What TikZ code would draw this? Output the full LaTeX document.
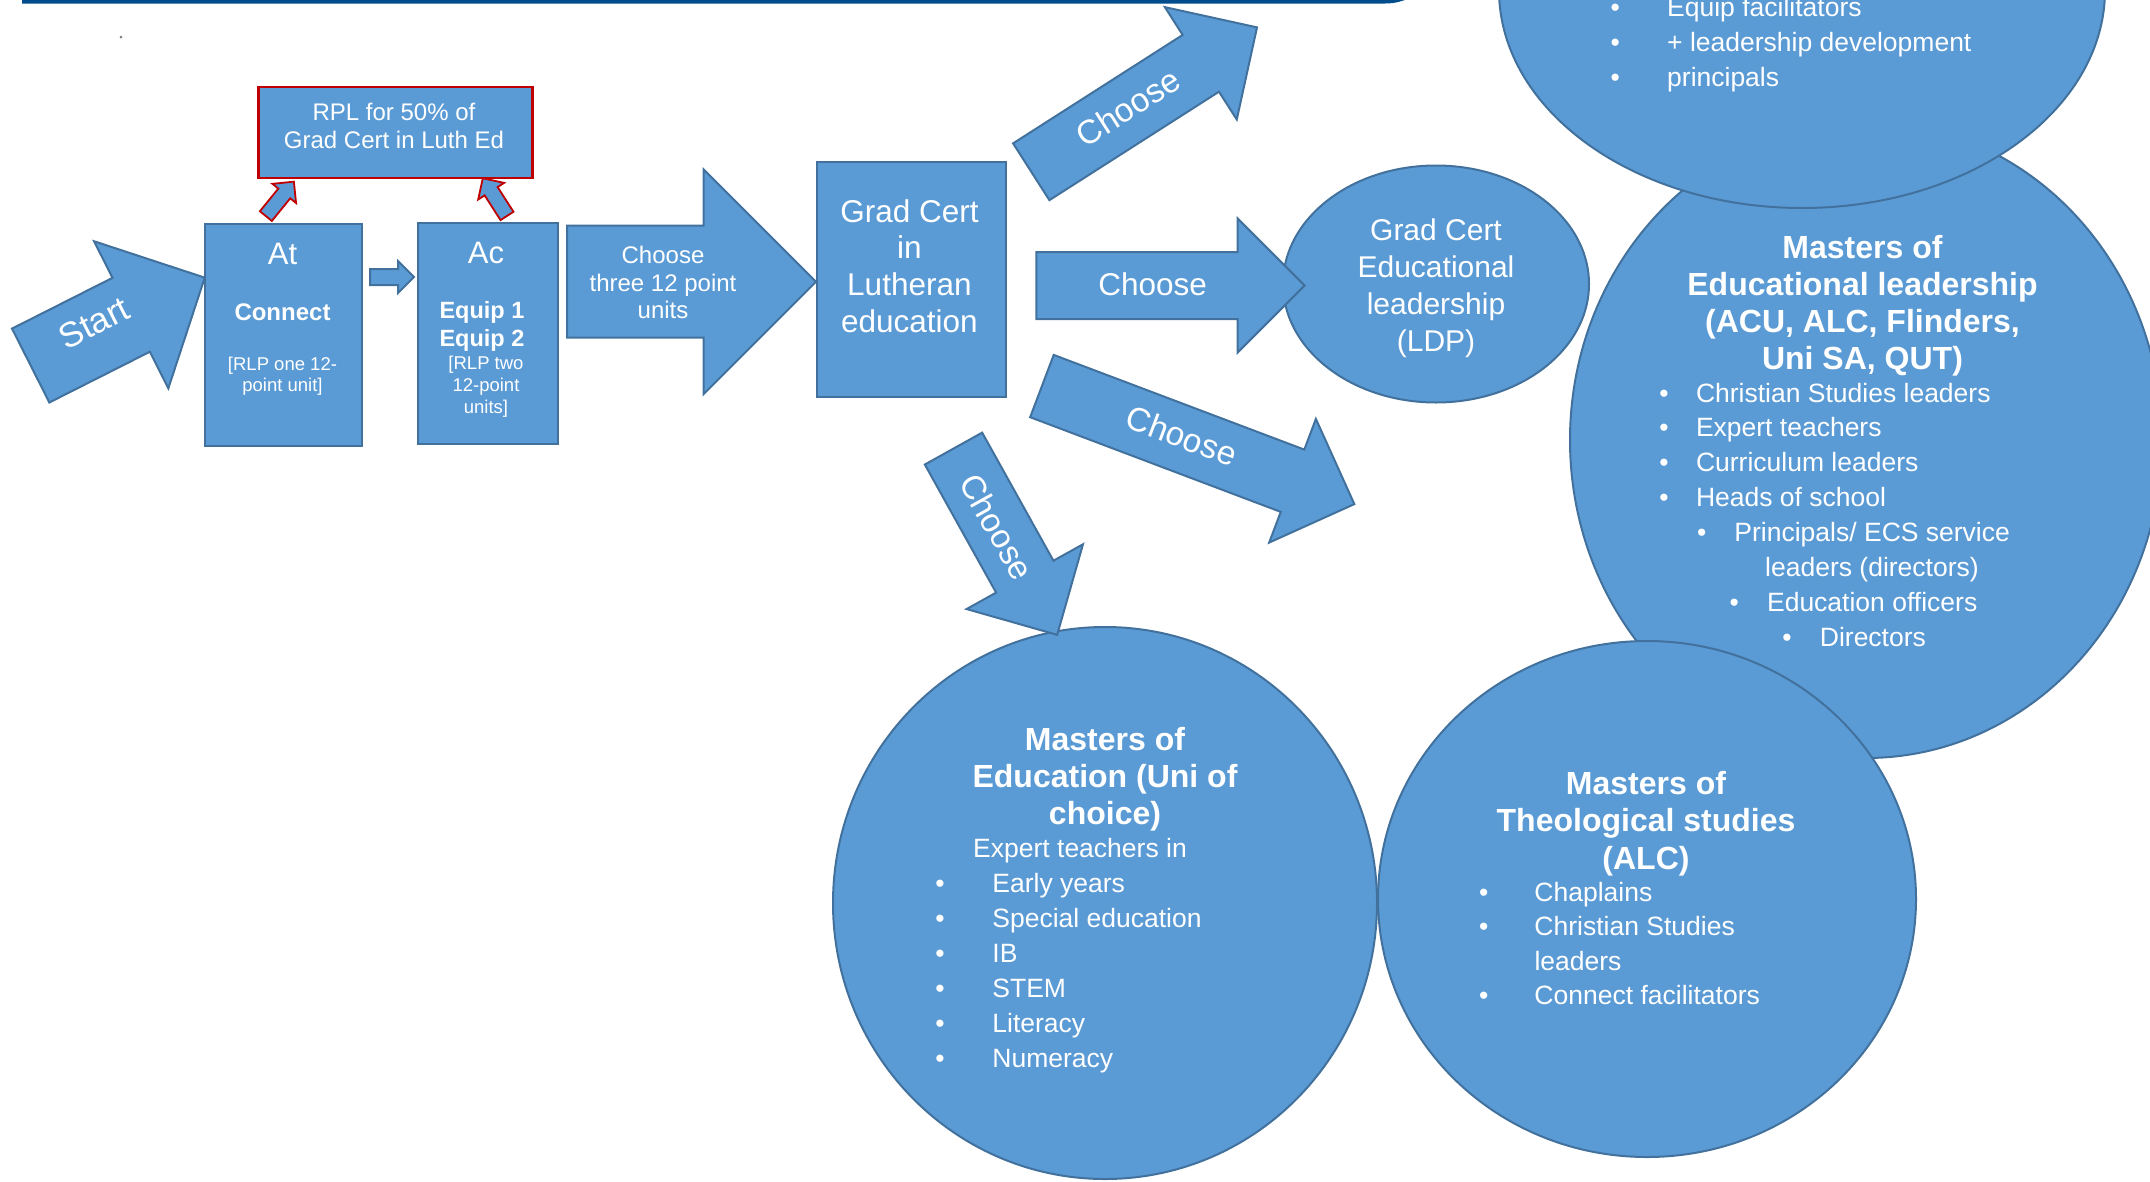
\documentclass[tikz,border=0pt]{standalone}
\usepackage{fontspec}
\setmainfont{Liberation Sans}
\usepackage{xcolor}
\usepackage{tikz}
\usetikzlibrary{shapes.geometric}
\usetikzlibrary{shapes.arrows}
\definecolor{boxblue}{RGB}{91,155,213}
\definecolor{lineblue}{RGB}{65,113,156}
\definecolor{rplred}{RGB}{192,0,0}
\definecolor{bandblue}{RGB}{0,76,140}
\newcommand{\bulletbox}[1]{\makebox[#1pt][l]{\textbullet}}
\tikzset{
    shape_base/.style = {draw=lineblue, fill=boxblue, line width=2pt, inner sep=0pt},
    blue_box/.style = {shape_base, rectangle, anchor=north west},
    red_box/.style = {blue_box, draw=rplred, line width=2.6pt},
    blue_oval/.style = {shape_base, ellipse},
    blue_arrow/.style = {shape_base, single arrow, anchor=tail},
    red_arrow/.style = {blue_arrow, draw=rplred, line width=1.8pt},
    tnode/.style = {text=white, inner sep=0pt},
    title_text/.style = {tnode, anchor=base, font=\fontsize{32}{37}\selectfont\bfseries},
    list_text/.style = {tnode, anchor=base west, font=\fontsize{26.5}{34.9}\selectfont}
}
\begin{document}
\begin{tikzpicture}[x=1pt, y=-1pt]
\useasboundingbox (0,0) rectangle (2150,1181);
\clip (0,0) rectangle (2150,1181);
% header band
\draw[bandblue, line width=4pt] (22,1.5) -- (1385,1.5) to[out=0, in=-160] (1410,-4);
\fill[gray] (121,37) circle (1.5);
% ovals
\node[blue_oval, minimum width=592pt, minimum height=636pt] (med_lead) at (1866,440) {};
\node[blue_oval, minimum width=606pt, minimum height=436pt] (equip_oval) at (1802,-10) {};
\node[blue_oval, minimum width=306pt, minimum height=237pt] (ldp) at (1436,284) {};
\node[blue_oval, minimum width=544pt, minimum height=552pt] (med) at (1105,903) {};
\node[blue_oval, minimum width=538pt, minimum height=516pt] (mth) at (1647,899) {};
% boxes
\node[red_box, minimum width=274pt, minimum height=91pt] (rpl) at (257,85.7) {};
\node[blue_box, minimum width=157pt, minimum height=222.3pt] (at_box) at (204,222.7) {};
\node[blue_box, minimum width=140pt, minimum height=221.3pt] (ac_box) at (417,221.7) {};
\node[blue_box, minimum width=189pt, minimum height=235pt] (gcle) at (815.6,161.4) {};
% block arrows (shaft = 2 x inner ysep)
\node[blue_arrow, rotate=26.8, minimum height=195pt, inner ysep=40.4pt, single arrow head extend=41pt] (start) at (29.8,366) {};
\node[blue_arrow, minimum height=44pt, inner ysep=7pt, single arrow head extend=8pt] (at_ac) at (369,277) {};
\node[red_arrow, rotate=50.9, minimum height=44.4pt, inner ysep=6.8pt, single arrow head extend=7.5pt] (at_rpl) at (265.3,216.8) {};
\node[red_arrow, rotate=122.7, minimum height=44.8pt, inner ysep=6.8pt, single arrow head extend=7.7pt] (ac_rpl) at (507.5,216.7) {};
\node[blue_arrow, minimum height=249pt, inner ysep=55pt, single arrow head extend=56.5pt] (units) at (566,281.7) {};
\node[blue_arrow, rotate=32.6, minimum height=268pt, inner ysep=32.7pt, single arrow head extend=33pt] (to_equip) at (1030.4,172.3) {};
\node[blue_arrow, minimum height=268.3pt, inner ysep=32.5pt, single arrow head extend=33.6pt] (to_ldp) at (1035.3,285.5) {};
\node[blue_arrow, rotate=-20.7, minimum height=334pt, inner ysep=32.3pt, single arrow head extend=32.8pt] (to_lead) at (1041,385.7) {};
\node[blue_arrow, rotate=-60.9, minimum height=213.2pt, inner ysep=31.8pt, single arrow head extend=33.8pt] (to_med) at (953,447.7) {};
% arrow labels
\node[tnode, rotate=26.8, font=\fontsize{35}{40}\selectfont] (start_txt) at (94,323) {Start};
\node[tnode, anchor=base, font=\fontsize{24}{27.5}\selectfont] (units_txt) at (663,263.6) {\begin{tabular}[t]{@{}c@{}}Choose\\three 12 point\\units\end{tabular}};
\node[tnode, rotate=32.6, font=\fontsize{33.5}{38}\selectfont] (equip_txt) at (1128,107) {Choose};
\node[tnode, font=\fontsize{31.5}{36}\selectfont] (ldp_choose) at (1152.7,284) {Choose};
\node[tnode, rotate=-20.7, font=\fontsize{33.5}{38}\selectfont] (lead_txt) at (1181.7,435.7) {Choose};
\node[tnode, rotate=-60.9, font=\fontsize{33.5}{38}\selectfont] (med_txt) at (996.7,526.7) {Choose};
% box texts
\node[tnode, anchor=base, font=\fontsize{24}{28}\selectfont] (rpl_txt) at (394,120.6) {\begin{tabular}[t]{@{}c@{}}RPL for 50\% of\\Grad Cert in Luth Ed\end{tabular}};
\node[tnode, anchor=base, font=\fontsize{31}{36}\selectfont] (at_title) at (282.5,264) {At};
\node[tnode, anchor=base, font=\fontsize{24}{28}\selectfont\bfseries] (at_unit) at (282.5,320.6) {Connect};
\node[tnode, anchor=base, font=\fontsize{18.5}{21}\selectfont] (at_note) at (282.5,370.5) {\begin{tabular}[t]{@{}c@{}}[RLP one 12-\\point unit]\end{tabular}};
\node[tnode, anchor=base, font=\fontsize{31}{36}\selectfont] (ac_title) at (486,263) {Ac};
\node[tnode, anchor=base, font=\fontsize{23.5}{28}\selectfont\bfseries] (ac_unit) at (482,318.5) {\begin{tabular}[t]{@{}c@{}}Equip 1\\Equip 2\end{tabular}};
\node[tnode, anchor=base, font=\fontsize{18.5}{22}\selectfont] (ac_note) at (486,369.5) {\begin{tabular}[t]{@{}c@{}}[RLP two\\12-point\\units]\end{tabular}};
\node[tnode, anchor=base, font=\fontsize{31.5}{36.9}\selectfont] (gcle_txt) at (909.4,222) {\begin{tabular}[t]{@{}c@{}}Grad Cert\\in\\Lutheran\\education\end{tabular}};
\node[tnode, anchor=base, font=\fontsize{30}{37}\selectfont] (ldp_txt) at (1436,240.8) {\begin{tabular}[t]{@{}c@{}}Grad Cert\\Educational\\leadership\\(LDP)\end{tabular}};
% oval texts
\node[list_text, font=\fontsize{26.5}{35}\selectfont] (equip_list) at (1610.4,16.2) {\begin{tabular}[t]{@{}l@{}}
\bulletbox{56.6}Equip facilitators\\
\bulletbox{56.6}+ leadership development\\
\bulletbox{56.6}principals
\end{tabular}};
\node[title_text, font=\fontsize{32}{36.9}\selectfont\bfseries] (med_lead_title) at (1862.5,258.5) {\begin{tabular}[t]{@{}c@{}}Masters of\\Educational leadership\\(ACU, ALC, Flinders,\\Uni SA, QUT)\end{tabular}};
\node[list_text] (med_lead_list) at (1659.2,402) {\begin{tabular}[t]{@{}l@{}}
\bulletbox{36.6}Christian Studies leaders\\
\bulletbox{36.6}Expert teachers\\
\bulletbox{36.6}Curriculum leaders\\
\bulletbox{36.6}Heads of school\\
\hspace*{37.6pt}\bulletbox{37.5}Principals/ ECS service\\
\hspace*{105.8pt}leaders (directors)\\
\hspace*{70.2pt}\bulletbox{37.5}Education officers\\
\hspace*{123pt}\bulletbox{37.5}Directors
\end{tabular}};
\node[title_text] (med_title) at (1105,750.5) {\begin{tabular}[t]{@{}c@{}}Masters of\\Education (Uni of\\choice)\end{tabular}};
\node[list_text, font=\fontsize{26.5}{35}\selectfont] (med_list) at (935.2,857) {\begin{tabular}[t]{@{}l@{}}
\hspace*{37.8pt}Expert teachers in\\
\bulletbox{57}Early years\\
\bulletbox{57}Special education\\
\bulletbox{57}IB\\
\bulletbox{57}STEM\\
\bulletbox{57}Literacy\\
\bulletbox{57}Numeracy
\end{tabular}};
\node[title_text, font=\fontsize{32}{37.6}\selectfont\bfseries] (mth_title) at (1646,794.3) {\begin{tabular}[t]{@{}c@{}}Masters of\\Theological studies\\(ALC)\end{tabular}};
\node[list_text, font=\fontsize{26.5}{34.3}\selectfont] (mth_list) at (1479,901.5) {\begin{tabular}[t]{@{}l@{}}
\bulletbox{55.3}Chaplains\\
\bulletbox{55.3}Christian Studies\\
\hspace*{55.3pt}leaders\\
\bulletbox{55.3}Connect facilitators
\end{tabular}};
\end{tikzpicture}
\end{document}
